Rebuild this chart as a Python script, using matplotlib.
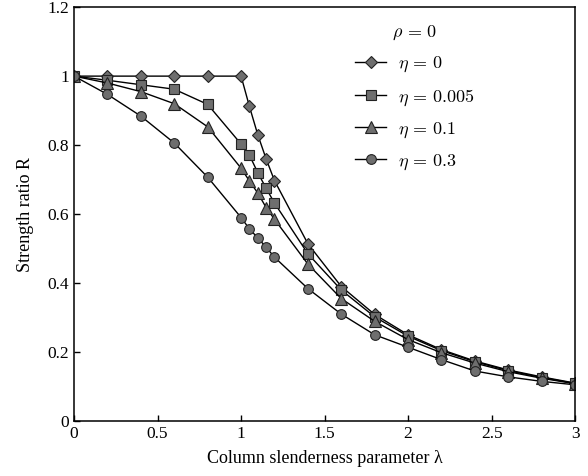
import matplotlib
matplotlib.use("Agg")
import matplotlib.pyplot as plt
from matplotlib.ticker import FuncFormatter

plt.rcParams['font.family'] = ['Liberation Serif', 'DejaVu Serif']
plt.rcParams['mathtext.fontset'] = 'cm'

# slenderness values used by all curves
lam = [0, 0.2, 0.4, 0.6, 0.8, 1.0, 1.05, 1.1, 1.15, 1.2,
       1.4, 1.6, 1.8, 2.0, 2.2, 2.4, 2.6, 2.8, 3.0]

# strength ratio
r_eta0 = [1, 1, 1, 1, 1, 1, 0.912, 0.830, 0.760, 0.697,
          0.514, 0.390, 0.309, 0.250, 0.207, 0.174, 0.148, 0.128, 0.110]
r_eta005 = [1, 0.988, 0.975, 0.962, 0.918, 0.803, 0.771, 0.720, 0.675, 0.632,
            0.485, 0.380, 0.302, 0.246, 0.204, 0.172, 0.146, 0.126, 0.109]
r_eta01 = [1, 0.980, 0.955, 0.920, 0.853, 0.733, 0.696, 0.661, 0.619, 0.585,
           0.455, 0.355, 0.289, 0.236, 0.198, 0.168, 0.143, 0.124, 0.108]
r_eta03 = [1, 0.947, 0.884, 0.806, 0.707, 0.590, 0.557, 0.531, 0.504, 0.475,
           0.384, 0.310, 0.250, 0.214, 0.178, 0.145, 0.128, 0.115, 0.105]

labels = [r'$\eta\,=\,0$', r'$\eta\,=\,0.005$', r'$\eta\,=\,0.1$', r'$\eta\,=\,0.3$']
markers = ['D', 's', '^', 'o']
sizes = [6, 7, 8, 7]

fig = plt.figure(figsize=(5.88, 4.76), dpi=100)
ax = fig.add_axes([0.126, 0.1155, 0.852, 0.8695])

for r, lab, m, s in zip([r_eta0, r_eta005, r_eta01, r_eta03], labels, markers, sizes):
    ax.plot(lam, r, color='black', linewidth=1.0, marker=m, markersize=s,
            markerfacecolor='#6e6e6e', markeredgecolor='#222222',
            markeredgewidth=0.8, label=lab)

ax.set_xlim(0, 3)
ax.set_ylim(0, 1.2)
ax.set_xticks([0, 0.5, 1, 1.5, 2, 2.5, 3])
ax.set_yticks([0, 0.2, 0.4, 0.6, 0.8, 1, 1.2])
fmt = FuncFormatter(lambda v, p: ('%g' % v))
ax.xaxis.set_major_formatter(fmt)
ax.yaxis.set_major_formatter(fmt)
ax.tick_params(direction='in', length=4, labelsize=12.5, width=1)
for sp in ax.spines.values():
    sp.set_linewidth(1.1)

ax.set_xlabel('Column slenderness parameter λ', fontsize=13, labelpad=6)
ax.set_ylabel('Strength ratio R', fontsize=13, labelpad=10)

leg = ax.legend(loc='upper left', bbox_to_anchor=(0.535, 0.99), frameon=False,
                title=r'$\rho\,=\,0$', fontsize=13, title_fontsize=13,
                handlelength=1.75, labelspacing=0.7, handletextpad=0.65,
                borderaxespad=0.3)

fig.savefig('out.png', dpi=100)
